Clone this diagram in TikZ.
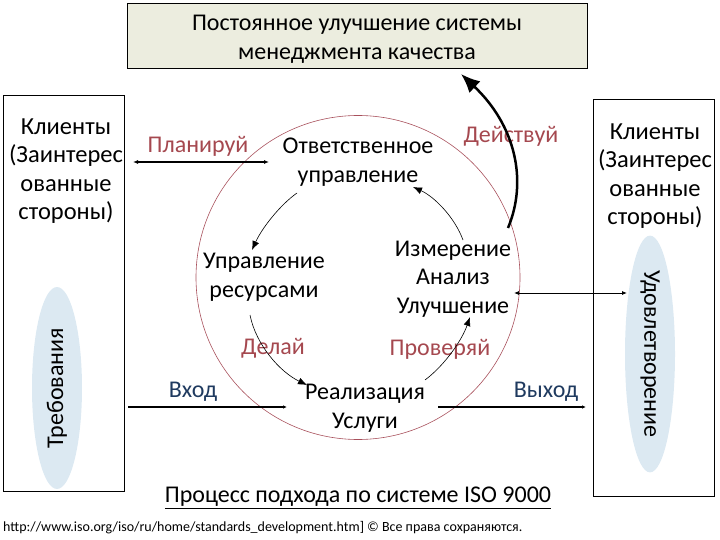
\documentclass[tikz,border=0pt]{standalone}
\usepackage{fontspec}
\setmainfont{Carlito}
\usetikzlibrary{arrows.meta,shapes.geometric}
\definecolor{redtxt}{HTML}{A5484F}
\definecolor{navytxt}{HTML}{1F3A5F}
\definecolor{circcol}{HTML}{A8505C}
\definecolor{topfill}{HTML}{ECEDDF}
\definecolor{ellfill}{HTML}{DCE9F2}
\begin{document}
\begin{tikzpicture}[x=1pt,y=-1pt,
  txt/.style={font=\fontsize{24}{28.5}\selectfont, align=center, inner sep=0pt},
  bigtxt/.style={font=\fontsize{24.5}{28.5}\selectfont, align=center, inner sep=0pt},
  redlbl/.style={txt, text=redtxt},
  navylbl/.style={txt, text=navytxt},
  plainbox/.style={draw=black, line width=0.8pt, inner sep=0pt},
  ellbox/.style={ellipse, fill=ellfill, inner sep=0pt, minimum width=202pt, minimum height=50pt, txt},
  thinarr/.style={-{Latex[length=9pt,width=7pt]}, line width=0.6pt},
  flowarr/.style={-{Latex[length=4pt,width=3.5pt]}, line width=2pt},
  dblarr/.style={{Latex[length=5pt,width=4pt]}-{Latex[length=5pt,width=4pt]}},
  bigarr/.style={-{Latex[length=19pt,width=16pt]}, line width=2.5pt}
]
\useasboundingbox (0,0) rectangle (720,540);

% frames
\node[plainbox, fill=topfill, minimum width=460pt, minimum height=65pt] (topbox) at (357,35.5) {};
\node[txt] (title) at (357,39.5) {Постоянное улучшение системы\\менеджмента качества};
\node[plainbox, minimum width=121pt, minimum height=396pt] (lbox) at (63.5,293) {};
\node[plainbox, minimum width=121pt, minimum height=397pt] (rbox) at (653.5,297.5) {};

% ellipses
\node[ellbox, rotate=90] (lell) at (57,388) {Требования};
\node[ellbox, rotate=-90] (rell) at (650,354) {Удовлетворение};

% cycle circle
\node[circle, draw=circcol, line width=0.6pt, minimum size=324pt, inner sep=0pt] (cyc) at (358,277.5) {};

% client texts
\node[bigtxt] (clL) at (66,171) {Клиенты\\(Заинтерес\\ованные\\стороны)};
\node[bigtxt] (clR) at (655,176) {Клиенты\\(Заинтерес\\ованные\\стороны)};

% inner texts
\node[redlbl] (plan) at (198,146) {Планируй};
\node[txt] (resp) at (358,162) {Ответственное\\управление};
\node[redlbl] (act) at (511,136) {Действуй};
\node[txt] (res) at (264,277) {Управление\\ресурсами};
\node[txt] (meas) at (453,279) {Измерение\\Анализ\\Улучшение};
\node[redlbl] (do) at (273,348) {Делай};
\node[redlbl] (check) at (440,349) {Проверяй};
\node[navylbl] (inlbl) at (193,392) {Вход};
\node[navylbl] (outlbl) at (546,392) {Выход};
\node[txt] (real) at (365,408) {Реализация\\Услуги};

\node[txt, font=\fontsize{24}{28}\selectfont] (caption) at (358,498) {\underline{Процесс подхода по системе ISO 9000}};
\node[inner sep=0pt, anchor=west, font=\fontsize{14}{16}\selectfont] (foot) at (3,528) {http://www.iso.org/iso/ru/home/standards\_development.htm] © Все права сохраняются.};

% connector end points
\coordinate (pl1) at (133,162);
\coordinate (pl2) at (269,162);
\coordinate (sat1) at (514,293);
\coordinate (sat2) at (627,293);
\coordinate (in1) at (128,407);
\coordinate (in2) at (287,407);
\coordinate (out1) at (438,407);
\coordinate (out2) at (586,407);
\coordinate (act1) at (508,228);
\coordinate (act2) at (461,74);
\coordinate (a1s) at (297,193);
\coordinate (a1e) at (252,250);
\coordinate (a2s) at (463,240);
\coordinate (a2e) at (413,187);
\coordinate (a3s) at (250,315);
\coordinate (a3e) at (307,385);
\coordinate (a4s) at (425,380);
\coordinate (a4e) at (470,317);

% connectors
\draw[dblarr, line width=1.5pt] (pl1) -- (pl2);
\draw[dblarr, line width=0.8pt] (sat1) -- (sat2);
\draw[flowarr] (in1) -- (in2);
\draw[flowarr] (out1) -- (out2);
\draw[bigarr] (act1) .. controls (528,180) and (515,125) .. (act2);
\draw[thinarr] (a1s) .. controls (280,205) and (262,228) .. (a1e);
\draw[thinarr] (a2s) .. controls (455,218) and (435,197) .. (a2e);
\draw[thinarr] (a3s) .. controls (256,345) and (280,372) .. (a3e);
\draw[thinarr] (a4s) .. controls (445,365) and (462,340) .. (a4e);
\end{tikzpicture}
\end{document}
